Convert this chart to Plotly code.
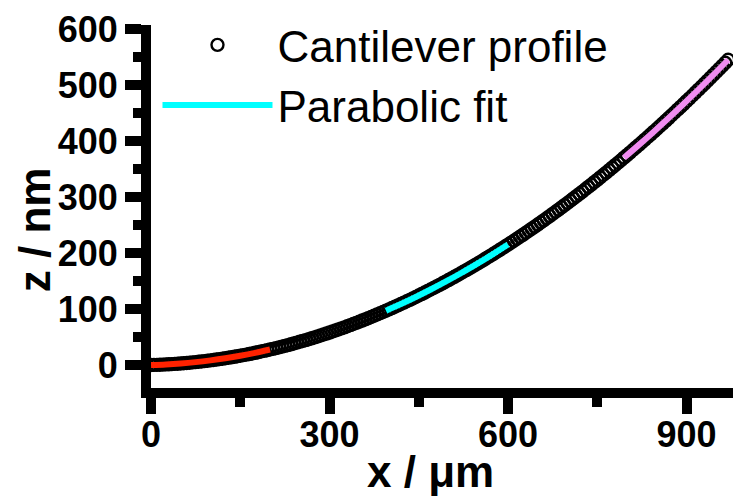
import plotly.graph_objects as go

# Cantilever profile (x in µm, z in nm)
x_profile = [0, 5, 10, 15, 20, 25, 30, 35, 40, 45, 50, 55, 60, 65, 70, 75, 80, 85, 90, 95,
             100, 105, 110, 115, 120, 125, 130, 135, 140, 145, 150, 155, 160, 165, 170, 175, 180, 185, 190, 195,
             200, 205, 210, 215, 220, 225, 230, 235, 240, 245, 250, 255, 260, 265, 270, 275, 280, 285, 290, 295,
             300, 305, 310, 315, 320, 325, 330, 335, 340, 345, 350, 355, 360, 365, 370, 375, 380, 385, 390, 395,
             400, 405, 410, 415, 420, 425, 430, 435, 440, 445, 450, 455, 460, 465, 470, 475, 480, 485, 490, 495,
             500, 505, 510, 515, 520, 525, 530, 535, 540, 545, 550, 555, 560, 565, 570, 575, 580, 585, 590, 595,
             600, 605, 610, 615, 620, 625, 630, 635, 640, 645, 650, 655, 660, 665, 670, 675, 680, 685, 690, 695,
             700, 705, 710, 715, 720, 725, 730, 735, 740, 745, 750, 755, 760, 765, 770, 775, 780, 785, 790, 795,
             800, 805, 810, 815, 820, 825, 830, 835, 840, 845, 850, 855, 860, 865, 870, 875, 880, 885, 890, 895,
             900, 905, 910, 915, 920, 925, 930, 935, 940, 945, 950, 955, 960, 965, 970]
z_profile = [0.0, 0.2, 0.3, 0.6, 0.8, 1.1, 1.3, 1.7, 2.0, 2.4, 2.8, 3.2, 3.7, 4.2, 4.7, 5.2, 5.8, 6.4, 7.0, 7.7,
             8.3, 9.0, 9.8, 10.5, 11.3, 12.1, 13.0, 13.8, 14.7, 15.7, 16.6, 17.6, 18.6, 19.6, 20.7, 21.8, 22.9, 24.1, 25.2, 26.4,
             27.7, 28.9, 30.2, 31.5, 32.9, 34.2, 35.6, 37.0, 38.5, 40.0, 41.5, 43.0, 44.5, 46.1, 47.7, 49.4, 51.0, 52.7, 54.5, 56.2,
             58.0, 59.8, 61.6, 63.5, 65.4, 67.3, 69.2, 71.2, 73.2, 75.2, 77.3, 79.4, 81.5, 83.6, 85.8, 88.0, 90.2, 92.4, 94.7, 97.0,
             99.3, 101.7, 104.1, 106.5, 108.9, 111.4, 113.9, 116.4, 118.9, 121.5, 124.1, 126.7, 129.4, 132.1, 134.8, 137.5, 140.3, 143.1, 145.9, 148.8,
             151.7, 154.6, 157.5, 160.5, 163.4, 166.5, 169.5, 172.6, 175.7, 178.8, 181.9, 185.1, 188.3, 191.6, 194.8, 198.1, 201.4, 204.8, 208.2, 211.6,
             215.0, 218.4, 221.9, 225.4, 229.0, 232.5, 236.1, 239.7, 243.4, 247.1, 250.8, 254.5, 258.3, 262.0, 265.9, 269.7, 273.6, 277.5, 281.4, 285.3,
             289.3, 293.3, 297.4, 301.4, 305.5, 309.6, 313.8, 317.9, 322.1, 326.4, 330.6, 334.9, 339.2, 343.5, 347.9, 352.3, 356.7, 361.1, 365.6, 370.1,
             374.6, 379.2, 383.8, 388.4, 393.0, 397.7, 402.4, 407.1, 411.9, 416.6, 421.4, 426.3, 431.1, 436.0, 440.9, 445.9, 450.8, 455.8, 460.8, 465.9,
             471.0, 476.1, 481.2, 486.4, 491.6, 496.8, 502.0, 507.3, 512.7, 517.9, 523.3, 528.6, 534.1, 539.5, 545.0]

# Parabolic fit segments
x_fit1 = [0, 25, 50, 75, 100, 125, 150, 175, 200]
z_fit1 = [0.0, 1.1, 2.8, 5.2, 8.3, 12.1, 16.6, 21.8, 27.7]
x_fit2 = [395, 420, 445, 470, 495, 520, 545, 570, 600]
z_fit2 = [97.0, 108.9, 121.5, 134.8, 148.8, 163.4, 178.8, 194.8, 215.0]
x_fit3 = [795, 820, 845, 870, 895, 920, 945, 970]
z_fit3 = [370.1, 393.0, 416.6, 440.9, 465.9, 491.6, 517.9, 545.0]

x_ticks = [0, 300, 600, 900]
y_ticks = [0, 100, 200, 300, 400, 500, 600]

FONT = "Liberation Sans, Arial, sans-serif"

fig = go.Figure()
fig.add_trace(go.Scatter(
    x=x_profile, y=z_profile, mode="markers", name="Cantilever profile",
    marker=dict(symbol="circle-open", size=12, color="black", line=dict(width=2.4, color="black")),
))
fig.add_trace(go.Scatter(
    x=x_fit1, y=z_fit1, mode="lines", showlegend=False,
    line=dict(color="#FF2200", width=6, shape="spline"),
))
fig.add_trace(go.Scatter(
    x=x_fit2, y=z_fit2, mode="lines", name="Parabolic fit",
    line=dict(color="#00FFFF", width=6, shape="spline"),
))
fig.add_trace(go.Scatter(
    x=x_fit3, y=z_fit3, mode="lines", showlegend=False,
    line=dict(color="#F08CF0", width=6, shape="spline"),
))

tickfont = dict(family=FONT, size=36, color="black", weight="bold")

fig.update_xaxes(
    range=[0, 991.6], tickvals=x_ticks, ticktext=[str(v) for v in x_ticks],
    showline=True, linecolor="black", linewidth=10, zeroline=False,
    ticks="outside", tickcolor="black", tickwidth=10, ticklen=16,
    minor=dict(ticks="outside", dtick=150, tick0=0, ticklen=9, tickwidth=10, tickcolor="black"),
    showgrid=False, tickfont=tickfont, ticklabelstandoff=-10,
)
fig.update_yaxes(
    range=[-41, 607], tickvals=y_ticks, ticktext=[str(v) for v in y_ticks],
    showline=True, linecolor="black", linewidth=10, zeroline=False,
    ticks="outside", tickcolor="black", tickwidth=10, ticklen=16,
    minor=dict(ticks="outside", dtick=50, tick0=0, ticklen=8, tickwidth=10, tickcolor="black"),
    showgrid=False, tickfont=tickfont,
)

fig.add_annotation(
    text="x / μm", xref="paper", yref="paper", x=0.473, y=-0.231,
    xanchor="center", yanchor="middle", showarrow=False,
    font=dict(family=FONT, size=44, color="black", weight="bold"),
)
fig.add_annotation(
    text="z / nm", xref="paper", yref="paper", x=-0.198, y=0.435, textangle=-90,
    xanchor="center", yanchor="middle", showarrow=False,
    font=dict(family=FONT, size=44, color="black", weight="bold"),
)

fig.update_layout(
    width=733, height=492,
    margin=dict(l=143, r=0, t=17, b=112),
    plot_bgcolor="white", paper_bgcolor="white",
    legend=dict(
        x=0.011, y=1.042, xanchor="left", yanchor="top",
        font=dict(family=FONT, size=44, color="black"),
        bgcolor="rgba(0,0,0,0)", itemwidth=110,
        tracegroupgap=0,
    ),
)

fig.write_html("out.html")
